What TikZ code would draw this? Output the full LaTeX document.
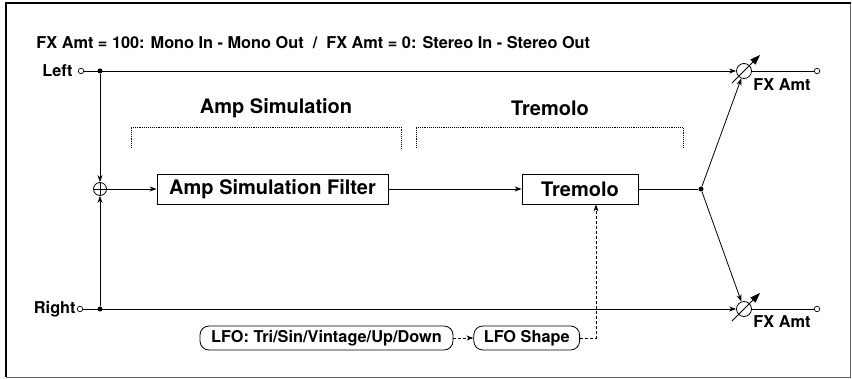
\documentclass[tikz,border=0pt]{standalone}
\usepackage{fontspec}
\setsansfont{TeX Gyre Heros}
\usetikzlibrary{arrows.meta, positioning, calc}

\begin{document}
\begin{tikzpicture}[x=1pt, y=-1pt, line width=0.8pt,
  >={Stealth[length=7pt, width=5pt]},
  lbl/.style={font=\sffamily\bfseries\fontsize{16.3}{18}\selectfont, inner sep=0pt},
  hdr/.style={font=\sffamily\bfseries\fontsize{20}{22}\selectfont, inner sep=0pt},
  fxbox/.style={draw, minimum height=30pt, inner sep=0pt,
                font=\sffamily\bfseries\fontsize{20}{22}\selectfont},
  lfobox/.style={draw, rounded corners=9pt, minimum height=24pt, inner xsep=10pt,
                 font=\sffamily\bfseries\fontsize{16.3}{18}\selectfont},
  port/.style={circle, draw, fill=white, inner sep=0pt, minimum size=5.5pt, line width=0.7pt},
  jdot/.style={circle, fill, inner sep=0pt, minimum size=5pt},
  sumnode/.style={circle, draw, inner sep=0pt, minimum size=13pt,
    path picture={\draw (path picture bounding box.north) -- (path picture bounding box.south)
                        (path picture bounding box.west) -- (path picture bounding box.east);}},
  knob/.style={circle, draw, inner sep=0pt, minimum size=15pt},
  varr/.style={-{Triangle[length=10pt, width=7pt]}, line width=0.8pt},
  bracket/.style={densely dotted, line width=0.9pt},
  ctrl/.style={->, dash pattern=on 3pt off 2pt}
]
  \useasboundingbox (0,0) rectangle (852,379);

  % ── Frame ──
  \draw[line width=0.7pt, black!60] (6,377) -- (850,377) -- (850,3);
  \draw[line width=2.2pt] (6,377) -- (6,3) -- (851,3);

  % ── Title ──
  \node[lbl, anchor=west] (title) at (36,43)
    {FX Amt = 100: Mono In - Mono Out \ / \ FX Amt = 0: Stereo In - Stereo Out};

  % ── Inputs ──
  \node[lbl, anchor=east] (lefttxt)  at (73,71)  {Left};
  \node[port]             (inL)      at (81,71)  {};
  \node[jdot]             (jL)       at (100,71) {};
  \node[lbl, anchor=east] (righttxt) at (76,309) {Right};
  \node[port]             (inR)      at (80,309) {};
  \node[jdot]             (jR)       at (100,309) {};
  \node[sumnode]          (sum)      at (100,189) {};

  % ── Effect blocks ──
  \node[fxbox, minimum width=231pt] (ampf) at (272.5,189) {Amp Simulation Filter};
  \node[fxbox, minimum width=116pt] (trem) at (580,189)   {Tremolo};
  \node[jdot] (jO) at (701,189) {};

  \node[hdr, anchor=base] (amphdr)  at (276,114) {Amp Simulation};
  \node[hdr, anchor=base] (tremhdr) at (550,116) {Tremolo};
  \draw[bracket] (131,148) -- (131,127) -- (401,127) -- (401,148);
  \draw[bracket] (416,148) -- (416,127) -- (683,127) -- (683,148);

  % ── Outputs ──
  \node[knob] (knobL) at (744,71)  {};
  \node[knob] (knobR) at (744,309) {};
  \node[port] (outL)  at (817,71)  {};
  \node[port] (outR)  at (817,309) {};
  \node[lbl] (fxL) at (782,85)  {FX Amt};
  \node[lbl] (fxR) at (782,322) {FX Amt};

  % ── LFO ──
  \node[lfobox, minimum width=253pt] (lfo) at (326.5,338) {LFO: Tri/Sin/Vintage/Up/Down};
  \node[lfobox, right=20pt of lfo]   (lfoshape) {LFO Shape};

  % ── Arrows ──
  \draw[->] (inL) -- (knobL);
  \draw[->] (inR) -- (knobR);
  \draw (knobL) -- (outL);
  \draw (knobR) -- (outR);
  \draw[->] (jL) -- (sum);
  \draw[->] (jR) -- (sum);
  \draw[->] (sum) -- (ampf);
  \draw[->] (ampf) -- (trem);
  \draw (trem) -- (jO);
  \foreach \k in {knobL,knobR} {
    \draw[->] (jO) -- (\k);
    \draw[varr] ([shift={(-12,12)}]\k.center) -- ([shift={(16,-16)}]\k.center);
  }
  \draw[ctrl] (lfo) -- (lfoshape);
  \draw[ctrl] (lfoshape.east) -| ([xshift=16pt]trem.south);

\end{tikzpicture}
\end{document}
